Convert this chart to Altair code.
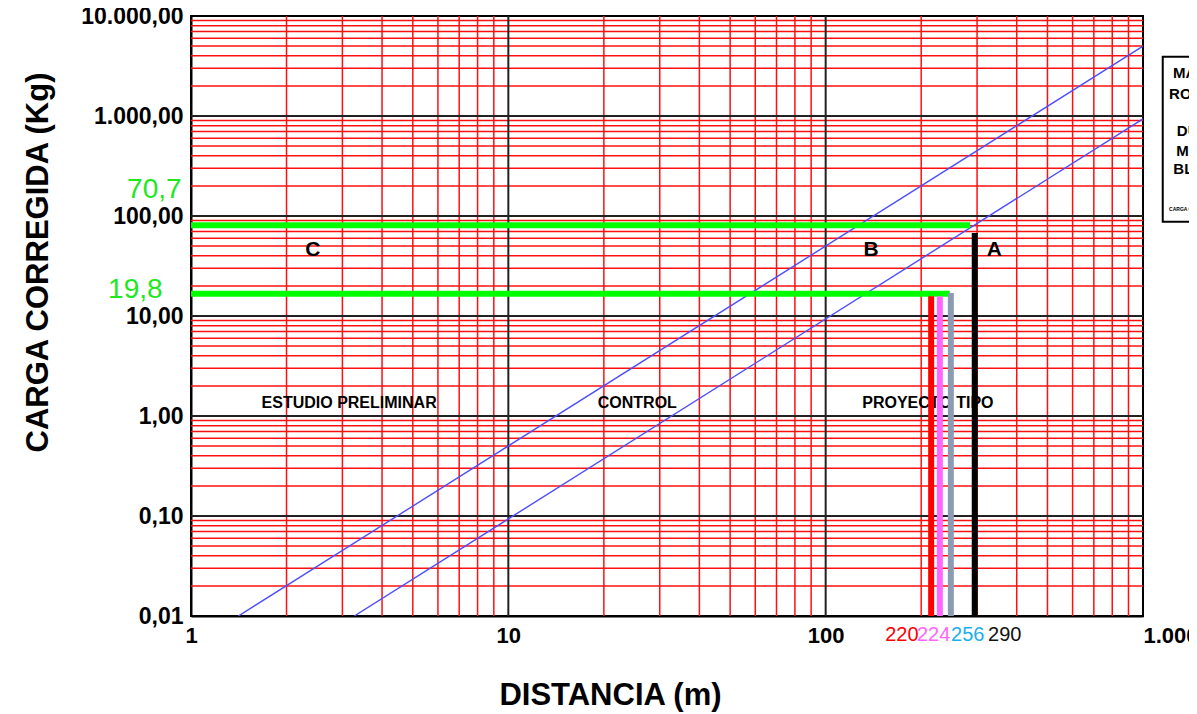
import altair as alt
import pandas as pd

# ---------------- axes ----------------
x_domain = [1, 1000]
y_domain = [0.01, 10000]
x_ticks = [1, 10, 100, 1000]
x_tick_labels = ["1", "10", "100", "1.000"]
y_ticks = [0.01, 0.1, 1, 10, 100, 1000, 10000]
y_tick_labels = ["0,01", "0,10", "1,00", "10,00", "100,00", "1.000,00", "10.000,00"]

# ---------------- blue reference lines (end points) ----------------
line_names = ["B", "B", "A", "A"]
line_dist = [1.41, 1000, 3.27, 1000]
line_load = [0.01, 5000, 0.01, 935]

# ---------------- green horizontal lines ----------------
green_load = [80.7, 16.7]
green_start = [1, 1]
green_end = [285, 246]

# ---------------- vertical bars ----------------
bar_dist = [215, 229, 248, 295]
bar_bottom = [0.01, 0.01, 0.01, 0.01]
bar_top = [15.8, 15.8, 17.0, 67.6]
bar_colors = ["#ff0000", "#ff66ff", "#8b9bb4", "#000000"]

# ---------------- annotations ----------------
dist_labels = ["220", "224", "256", "290"]
dist_label_colors = ["#ff0000", "#ff66ff", "#1ab0ec", "#111111"]
dist_label_x = [154, 194, 248.5, 325]
dist_label_y = [0.0056, 0.0056, 0.0056, 0.0056]

green_labels = ["70,7", "19,8"]
green_label_x = [0.629, 0.548]
green_label_y = [151, 15.1]

zone_letters = ["C", "B", "A"]
zone_letter_x = [2.42, 139, 340]
zone_letter_y = [46, 46, 46]

region_names = ["ESTUDIO PRELIMINAR", "CONTROL", "PROYECTO TIPO"]
region_x = [3.15, 25.5, 210]
region_y = [1.36, 1.36, 1.36]

legend_text = ["MACIZO", "ROCOSO", "DURO", "MEDIO", "BLANDO"]
legend_x = [1244, 1208, 1278, 1272, 1246]
legend_y = [2661, 1667, 708, 447, 295]
legend_small = ["CARGA CORREGIDA"]
legend_small_x = [1208]
legend_small_y = [118]
box_x = [1154]
box_x2 = [6000]
box_y = [3917]
box_y2 = [87.7]

# ---------------- log grid ----------------
vx_minor = [m * 10 ** k for k in range(0, 3) for m in range(2, 10)]
vx_major = [10, 100]
hy_minor = [m * 10.0 ** k for k in range(-2, 4) for m in range(2, 10)]
hy_major = [0.1, 1, 10, 100, 1000]

FONT = "Liberation Sans"

xs = alt.Scale(type="log", domain=x_domain)
ys = alt.Scale(type="log", domain=y_domain)

x_expr = "[" + ",".join(f"'{s}'" for s in x_tick_labels) + "][round(log(datum.value)/LN10)]"
y_expr = "[" + ",".join(f"'{s}'" for s in y_tick_labels) + "][round(log(datum.value)/LN10)+2]"

xaxis = alt.Axis(
    values=x_ticks, labelExpr=x_expr, title="DISTANCIA (m)", grid=False, ticks=False,
    domainColor="black", domainWidth=2, labelFont=FONT, labelFontWeight="bold",
    labelFontSize=22, labelColor="black", labelPadding=9, labelFlush=False,
    labelOverlap=False,
    labelAlign={"condition": {"test": "datum.value >= 1000", "value": "left"}, "value": "center"},
    titleFont=FONT, titleFontSize=31, titleFontWeight="bold", titleColor="black",
    titleX=419, titleY=79, titleBaseline="middle", titleAnchor="start", titleAlign="center",
)
yaxis = alt.Axis(
    values=y_ticks, labelExpr=y_expr, title="CARGA CORREGIDA (Kg)", grid=False, ticks=False,
    domainColor="black", domainWidth=2, labelFont=FONT, labelFontWeight="bold",
    labelFontSize=23, labelColor="black", labelPadding=8, labelOverlap=False,
    titleFont=FONT, titleFontSize=31, titleFontWeight="bold", titleColor="black",
    titleX=-153, titleY=246, titleBaseline="middle", titleAlign="center", titleAngle=-90,
)

X = alt.X("D:Q", scale=xs, axis=xaxis)
Y = alt.Y("Q:Q", scale=ys, axis=yaxis)

vminor = alt.Chart(pd.DataFrame({"D": vx_minor})).mark_rule(color="#ff1010", strokeWidth=1.5).encode(x=X)
hminor = alt.Chart(pd.DataFrame({"Q": hy_minor})).mark_rule(color="#ff1010", strokeWidth=1.5).encode(y=Y)
vmajor = alt.Chart(pd.DataFrame({"D": vx_major})).mark_rule(color="#222222", strokeWidth=2).encode(x=X)
hmajor = alt.Chart(pd.DataFrame({"Q": hy_major})).mark_rule(color="#222222", strokeWidth=2).encode(y=Y)

blue = alt.Chart(pd.DataFrame({"D": line_dist, "Q": line_load, "name": line_names})).mark_line(
    color="#4d4dff", strokeWidth=1.4, clip=True
).encode(x=X, y=Y, detail="name:N")

letters = alt.Chart(pd.DataFrame({"D": zone_letter_x, "Q": zone_letter_y, "t": zone_letters})).mark_text(
    font=FONT, fontWeight="bold", fontSize=21, color="black", baseline="middle", align="center"
).encode(x=X, y=Y, text="t:N")

regions = alt.Chart(pd.DataFrame({"D": region_x, "Q": region_y, "t": region_names})).mark_text(
    font=FONT, fontWeight="bold", fontSize=16, color="black", baseline="middle", align="center"
).encode(x=X, y=Y, text="t:N")

green = alt.Chart(pd.DataFrame({"D": green_start, "D2": green_end, "Q": green_load})).mark_rule(
    color="#00ff00", strokeWidth=6, strokeCap="butt"
).encode(x=X, x2="D2:Q", y=Y)

bars = alt.Chart(pd.DataFrame({"D": bar_dist, "Q": bar_bottom, "Q2": bar_top, "c": bar_colors})).mark_rule(
    strokeWidth=6, strokeCap="butt"
).encode(x=X, y=Y, y2="Q2:Q", color=alt.Color("c:N", scale=None))

dist_txt = alt.Chart(pd.DataFrame({"D": dist_label_x, "Q": dist_label_y, "t": dist_labels, "c": dist_label_colors})).mark_text(
    font=FONT, fontSize=20, align="left", baseline="alphabetic"
).encode(x=X, y=Y, text="t:N", color=alt.Color("c:N", scale=None))

green_txt = alt.Chart(pd.DataFrame({"D": green_label_x, "Q": green_label_y, "t": green_labels})).mark_text(
    font=FONT, fontSize=28, align="left", baseline="alphabetic", color="#1ee81e"
).encode(x=X, y=Y, text="t:N")

box = alt.Chart(pd.DataFrame({"D": box_x, "D2": box_x2, "Q": box_y, "Q2": box_y2})).mark_rect(
    fillOpacity=0, stroke="black", strokeWidth=2
).encode(x=X, x2="D2:Q", y=Y, y2="Q2:Q")

legend_txt = alt.Chart(pd.DataFrame({"D": legend_x, "Q": legend_y, "t": legend_text})).mark_text(
    font=FONT, fontWeight="bold", fontSize=15, align="left", baseline="middle", color="black"
).encode(x=X, y=Y, text="t:N")

legend_small_txt = alt.Chart(pd.DataFrame({"D": legend_small_x, "Q": legend_small_y, "t": legend_small})).mark_text(
    font=FONT, fontWeight="bold", fontSize=5, align="left", baseline="middle", color="black"
).encode(x=X, y=Y, text="t:N")

chart = alt.layer(
    vminor, hminor, vmajor, hmajor, blue, letters, regions, green, bars,
    dist_txt, green_txt, box, legend_txt, legend_small_txt
).properties(
    width=952, height=600,
    autosize=alt.AutoSizeParams(type="none"),
    padding={"left": 183, "top": 8, "right": 46, "bottom": 98},
    background="white",
).configure_view(stroke="black", strokeWidth=2)

chart.save("out.html", embed_options={"renderer": "svg", "actions": False})
